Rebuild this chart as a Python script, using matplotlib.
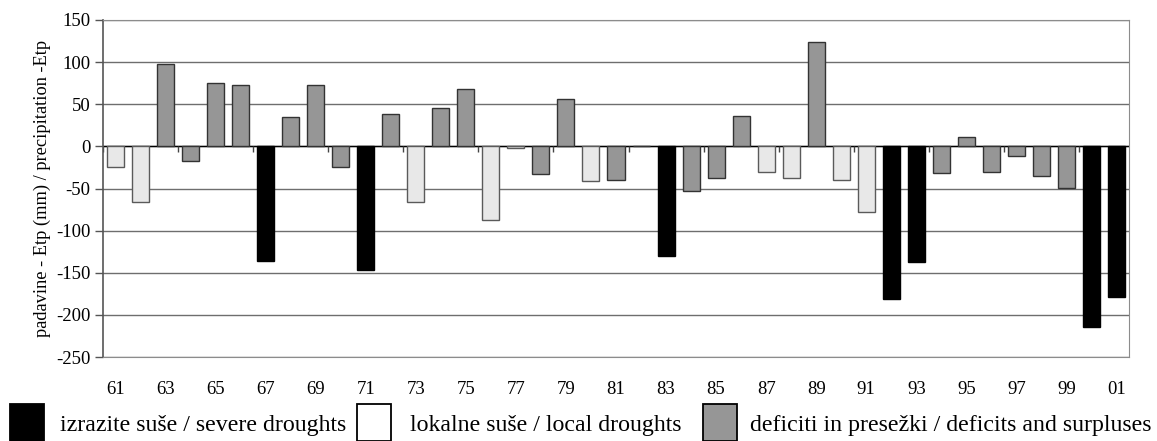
import numpy as np
import matplotlib
matplotlib.use("Agg")
import matplotlib.pyplot as plt
from matplotlib.patches import Rectangle

plt.rcParams['font.family'] = ['Liberation Serif', 'DejaVu Serif']
plt.rcParams['axes.unicode_minus'] = False

# Data
YEARS = ['61', '62', '63', '64', '65', '66', '67', '68', '69', '70',
         '71', '72', '73', '74', '75', '76', '77', '78', '79', '80',
         '81', '82', '83', '84', '85', '86', '87', '88', '89', '90',
         '91', '92', '93', '94', '95', '96', '97', '98', '99', '00', '01']
VALUES = [-24, -66, 98, -17, 75, 73, -136, 35, 73, -24,
          -147, 39, -66, 46, 68, -87, -2, -33, 56, -41,
          -40, 0, -130, -53, -38, 36, -30, -38, 124, -40,
          -78, -181, -137, -32, 11, -31, -11, -35, -49, -214, -179]
# S = severe drought, L = local drought, D = deficit / surplus
TYPES = ['L', 'L', 'D', 'D', 'D', 'D', 'S', 'D', 'D', 'D',
         'S', 'D', 'L', 'D', 'D', 'L', 'L', 'D', 'D', 'L',
         'D', 'D', 'S', 'D', 'D', 'D', 'L', 'L', 'D', 'L',
         'L', 'S', 'S', 'D', 'D', 'D', 'D', 'D', 'D', 'S', 'S']
LEGEND_LABELS = ['izrazite suše / severe droughts',
                 'lokalne suše / local droughts',
                 'deficiti in presežki / deficits and surpluses']
LEGEND_FACES = ['#000000', '#ffffff', '#969696']

FACE = {'S': '#000000', 'L': '#e8e8e8', 'D': '#969696'}
EDGE = {'S': '#000000', 'L': '#5a5a5a', 'D': '#333333'}

W, H = 1157, 441
fig = plt.figure(figsize=(W / 100, H / 100), dpi=100)
ax = fig.add_axes([103 / W, 1 - 357 / H, 1026 / W, 337 / H])

x = np.arange(len(YEARS))
ax.bar(x, VALUES, width=0.68,
       color=[FACE[t] for t in TYPES],
       edgecolor=[EDGE[t] for t in TYPES], linewidth=1.0, zorder=3)

ax.set_xlim(-0.5, len(YEARS) - 0.5)
ax.set_ylim(-250, 150)
ax.set_yticks(np.arange(-250, 151, 50))
ax.yaxis.grid(True, color='#6e6e6e', linewidth=1.0, zorder=0)
ax.set_axisbelow(True)
ax.axhline(0, color='#000000', linewidth=1.0, zorder=2)

# small category ticks on the zero line
bounds = np.arange(-0.5, len(YEARS), 3)
ax.vlines(bounds, -7, 0, color='#444444', linewidth=1.0, zorder=2)

ax.set_xticks(x[::2])
ax.set_xticklabels(YEARS[::2])
ax.tick_params(axis='x', length=0, pad=17, labelsize=13.5)
ax.tick_params(axis='y', length=6, width=1, color='#555555', labelsize=13.5, pad=3)

for side in ['top', 'right', 'bottom']:
    ax.spines[side].set_color('#8c8c8c')
ax.spines['left'].set_color('#555555')
ax.spines['left'].set_linewidth(1.2)

ax.set_ylabel('padavine - Etp (mm) / precipitation -Etp', fontsize=13.2, labelpad=4)

# legend drawn in figure pixels
box_x = [10, 357, 703]
text_x = [60, 410, 750]
for bx, tx, fc, lab in zip(box_x, text_x, LEGEND_FACES, LEGEND_LABELS):
    fig.patches.append(Rectangle((bx / W, 0), 34 / W, 37 / H, transform=fig.transFigure,
                                 facecolor=fc, edgecolor='#000000', linewidth=1.3))
    fig.text(tx / W, 1 - 425 / H, lab, fontsize=17.2, va='center', ha='left')

fig.savefig('out.png', dpi=100)
